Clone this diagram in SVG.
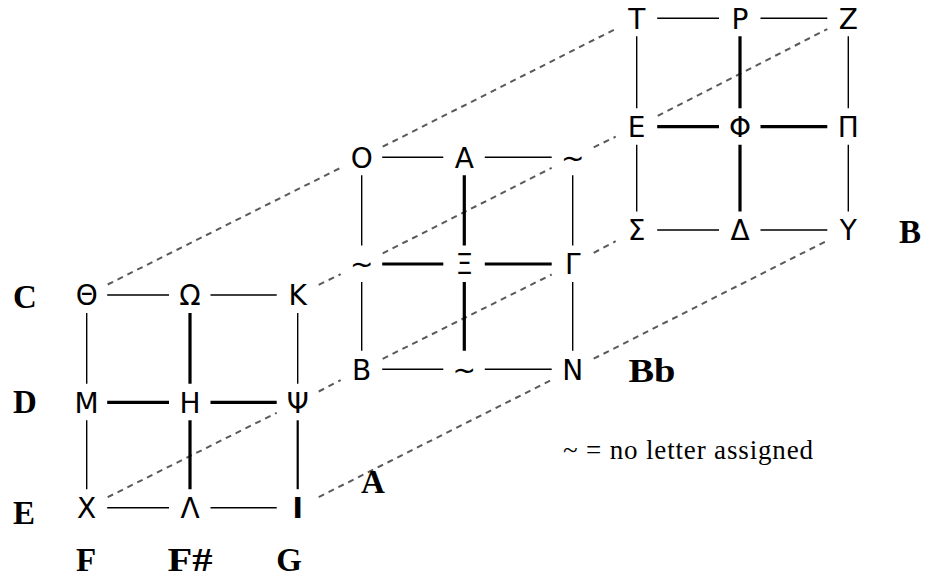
<svg xmlns="http://www.w3.org/2000/svg" width="928" height="579" viewBox="0 0 928 579">
<style>
.n{font-family:"DejaVu Sans",sans-serif;font-size:28px;fill:#000;text-anchor:middle}
.lb{font-family:"Liberation Serif",serif;font-size:33px;font-weight:bold;fill:#000;text-anchor:middle}
.lg{font-family:"Liberation Serif",serif;font-size:27px;fill:#000}
.t{stroke:#000;stroke-width:1.4;fill:none}
.k{stroke:#000;stroke-width:3.2;fill:none}
.m{stroke:#000;stroke-width:2.2;fill:none}
.d{stroke:#5a5a5a;stroke-width:2;stroke-dasharray:6 5;fill:none}
</style>
<rect width="928" height="579" fill="#fff"/>
<g id="connectors">
<g id="depth">
<path class="d" d="M107.7,284.5L340.7,167.8M382.7,146.7L615.7,28.9"/>
<path class="d" d="M318.7,284.8L340.7,274.2M382.7,253.4L551.7,167.9M593.7,147.3L615.7,136.7M657.7,115.9L827.3,29.1"/>
<path class="d" d="M107.7,497.2L276.7,412.8M318.7,391.5L340.7,380.1M382.7,358.8L551.7,274.5M593.7,252.8L615.7,241.2"/>
<path class="d" d="M318.7,497.1L551.7,379.9M593.7,358.7L827.3,240.6"/>
</g>
<g id="front">
<path class="t" d="M107.2,295H169M210.5,295H276.7M107.2,507.7H169M210.5,507.7H276.7M86.7,313V383.8M86.7,420.3V489.2M297.7,313V383.8"/>
<path class="m" d="M297.7,420.3V489.2"/>
<path class="k" d="M107.2,402.3H169M210.5,402.3H276.7M190,313V383.8M190,420.3V489.2"/>
</g>
<g id="middle">
<path class="t" d="M382.2,157.3H443.3M484.8,157.3H551.7M382.2,369.3H443.3M484.8,369.3H551.7M361.7,175.3V245.5M361.7,282V350.8M572.7,175.3V245.5M572.7,282V350.8"/>
<path class="k" d="M382.2,264H443.3M484.8,264H551.7M464.3,175.3V245.5M464.3,282V350.8"/>
</g>
<g id="back">
<path class="t" d="M657.2,18.3H719M760.5,18.3H827.3M657.2,230H719M760.5,230H827.3M636.7,36.3V108.2M636.7,144.7V211.5M848.3,36.3V108.2M848.3,144.7V211.5"/>
<path class="k" d="M657.2,126.7H719M760.5,126.7H827.3M740,36.3V108.2M740,144.7V211.5"/>
</g>
</g>
<g id="node-theta"><text class="n" x="86.7" y="305.2">Θ</text></g>
<g id="node-omega"><text class="n" x="190" y="305.2">Ω</text></g>
<g id="node-kappa"><text class="n" x="297.7" y="305.2">Κ</text></g>
<g id="node-mu"><text class="n" x="86.7" y="412.5">Μ</text></g>
<g id="node-eta"><text class="n" x="190" y="412.5">Η</text></g>
<g id="node-psi"><text class="n" x="297.7" y="412.5">Ψ</text></g>
<g id="node-chi"><text class="n" x="86.7" y="517.9">Χ</text></g>
<g id="node-lambda"><text class="n" x="190" y="517.9">Λ</text></g>
<g id="node-iota"><text class="n" x="297.7" y="517.9" font-weight="bold">Ι</text></g>
<g id="node-omicron"><text class="n" x="361.7" y="167.5">Ο</text></g>
<g id="node-alpha"><text class="n" x="464.3" y="167.5">Α</text></g>
<g id="node-none1"><text class="n" x="572.7" y="167.5">~</text></g>
<g id="node-none2"><text class="n" x="361.7" y="274.2">~</text></g>
<g id="node-xi"><text class="n" x="464.3" y="274.2">Ξ</text></g>
<g id="node-gamma"><text class="n" x="572.7" y="274.2">Γ</text></g>
<g id="node-beta"><text class="n" x="361.7" y="379.5">Β</text></g>
<g id="node-none3"><text class="n" x="464.3" y="379.5">~</text></g>
<g id="node-nu"><text class="n" x="572.7" y="379.5">Ν</text></g>
<g id="node-tau"><text class="n" x="636.7" y="28.5">Τ</text></g>
<g id="node-rho"><text class="n" x="740" y="28.5">Ρ</text></g>
<g id="node-zeta"><text class="n" x="848.3" y="28.5">Ζ</text></g>
<g id="node-epsilon"><text class="n" x="636.7" y="136.9">Ε</text></g>
<g id="node-phi"><text class="n" x="740" y="136.9">Φ</text></g>
<g id="node-pi"><text class="n" x="848.3" y="136.9">Π</text></g>
<g id="node-sigma"><text class="n" x="636.7" y="240.2">Σ</text></g>
<g id="node-delta"><text class="n" x="740" y="240.2">Δ</text></g>
<g id="node-upsilon"><text class="n" x="848.3" y="240.2">Υ</text></g>
<g id="labels">
<text class="lb" x="25" y="308">C</text>
<text class="lb" x="25" y="413">D</text>
<text class="lb" x="24" y="524">E</text>
<text class="lb" x="86" y="571">F</text>
<text class="lb" x="190" y="571" textLength="45" lengthAdjust="spacingAndGlyphs">F#</text>
<text class="lb" x="289" y="571">G</text>
<text class="lb" x="373" y="493">A</text>
<text class="lb" x="652" y="382" textLength="47" lengthAdjust="spacingAndGlyphs">Bb</text>
<text class="lb" x="910" y="243">B</text>
</g>
<g id="legend"><text class="lg" x="563" y="459" textLength="250">~ = no letter assigned</text></g>
</svg>
